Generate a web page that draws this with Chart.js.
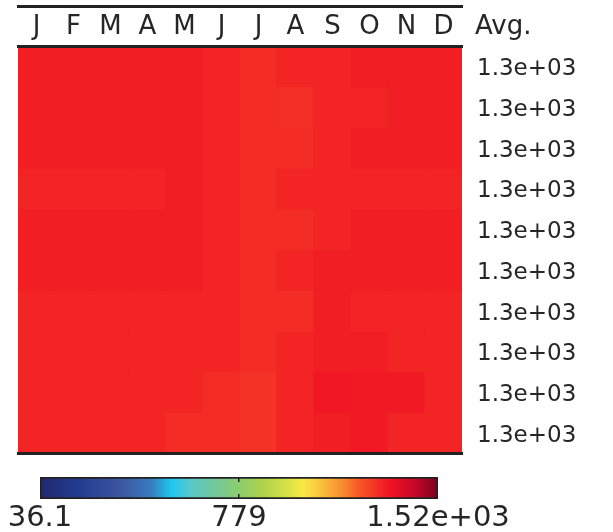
<!DOCTYPE html>
<html>
<head>
<meta charset="utf-8">
<script src="https://cdn.jsdelivr.net/npm/chart.js@4.4.1/dist/chart.umd.min.js"></script>
<style>
  body { margin: 0; background: #fff; }
  #wrap { position: relative; width: 613px; height: 532px; }
  #heat { position: absolute; left: 0; top: 0; }
  #bar { position: absolute; left: 0; top: 460px; }
</style>
</head>
<body>
<div id="wrap">
  <canvas id="heat" width="613" height="460"></canvas>
  <canvas id="bar" width="613" height="72"></canvas>
</div>
<script>
// month columns
var months = ['J', 'F', 'M', 'A', 'M', 'J', 'J', 'A', 'S', 'O', 'N', 'D'];

// one row per line of the heatmap
var row1  = [1324, 1324, 1324, 1324, 1324, 1314, 1301, 1314, 1314, 1324, 1324, 1324];
var row2  = [1324, 1324, 1324, 1324, 1324, 1314, 1301, 1296, 1314, 1314, 1324, 1324];
var row3  = [1324, 1324, 1324, 1324, 1324, 1314, 1301, 1301, 1314, 1324, 1324, 1324];
var row4  = [1314, 1314, 1314, 1314, 1324, 1314, 1301, 1314, 1314, 1314, 1314, 1314];
var row5  = [1324, 1324, 1324, 1324, 1324, 1314, 1301, 1301, 1314, 1324, 1324, 1324];
var row6  = [1324, 1324, 1324, 1324, 1324, 1314, 1301, 1314, 1324, 1324, 1324, 1324];
var row7  = [1314, 1314, 1314, 1314, 1314, 1314, 1301, 1301, 1324, 1314, 1314, 1314];
var row8  = [1314, 1314, 1314, 1314, 1314, 1314, 1301, 1314, 1324, 1324, 1314, 1314];
var row9  = [1314, 1314, 1314, 1314, 1314, 1301, 1289, 1314, 1337, 1330, 1330, 1314];
var row10 = [1314, 1314, 1314, 1314, 1301, 1301, 1289, 1314, 1324, 1330, 1314, 1314];
var rows = [row1, row2, row3, row4, row5, row6, row7, row8, row9, row10];

// colour scale range
var scaleMin = 36.1;
var scaleMax = 1522;

// colormap: position, rgb
var cmapPos = [0, 0.1, 0.2, 0.28, 0.33, 0.38, 0.43, 0.5, 0.56, 0.62, 0.66, 0.71, 0.76, 0.8, 0.88, 0.94, 1];
var cmapRgb = [
  [33, 40, 110], [35, 60, 145], [60, 85, 160], [55, 125, 190], [30, 200, 240],
  [90, 200, 200], [110, 200, 160], [140, 205, 110], [175, 210, 75], [215, 225, 70],
  [248, 233, 70], [250, 190, 60], [247, 140, 50], [247, 90, 38], [240, 18, 36],
  [200, 8, 40], [120, 0, 30]
];

var textColor = '#262626';
var font = 'DejaVu Sans';

function colorAt(f) {
  f = Math.max(0, Math.min(1, f));
  for (var i = 1; i < cmapPos.length; i++) {
    if (f <= cmapPos[i]) {
      var t = (f - cmapPos[i - 1]) / (cmapPos[i] - cmapPos[i - 1]);
      var a = cmapRgb[i - 1], b = cmapRgb[i];
      return 'rgb(' + Math.round(a[0] + (b[0] - a[0]) * t) + ',' +
        Math.round(a[1] + (b[1] - a[1]) * t) + ',' +
        Math.round(a[2] + (b[2] - a[2]) * t) + ')';
    }
  }
  return 'rgb(' + cmapRgb[cmapRgb.length - 1].join(',') + ')';
}

function valueColor(v) {
  return colorAt((v - scaleMin) / (scaleMax - scaleMin));
}

// like printf %.Ng
function fmtG(v, p) {
  var s = Number(v).toPrecision(p);
  if (s.indexOf('e') >= 0) {
    var parts = s.split('e');
    var sign = parts[1].charAt(0);
    var exp = parts[1].slice(1);
    if (exp.length < 2) exp = '0' + exp;
    return parts[0] + 'e' + sign + exp;
  }
  return s;
}

function rowAverage(r) {
  var sum = 0;
  for (var i = 0; i < r.length; i++) sum += r[i];
  return sum / r.length;
}

var avgLabel = {
  id: 'avgLabel',
  afterDraw: function(chart) {
    var xs = chart.scales.x;
    var ctx = chart.ctx;
    ctx.save();
    ctx.font = '26px "' + font + '"';
    ctx.fillStyle = textColor;
    ctx.textAlign = 'left';
    ctx.textBaseline = 'middle';
    ctx.fillText('Avg.', chart.chartArea.right + 13, xs.bottom - 3 - 26 * 1.2 / 2);
    ctx.restore();
  }
};

var datasets = [];
for (var r = 0; r < rows.length; r++) {
  var cells = [];
  var colors = [];
  for (var c = 0; c < months.length; c++) {
    cells.push([r, r + 1]);
    colors.push(valueColor(rows[r][c]));
  }
  datasets.push({
    label: 'row ' + (r + 1),
    data: cells,
    backgroundColor: colors,
    borderWidth: 0,
    inflateAmount: 0.6,
    grouped: false,
    barPercentage: 1,
    categoryPercentage: 1
  });
}

var heat = new Chart(document.getElementById('heat').getContext('2d'), {
  type: 'bar',
  data: { labels: months, datasets: datasets },
  options: {
    responsive: false,
    animation: false,
    layout: { padding: { left: 18, top: 0, right: 0, bottom: 0 } },
    plugins: { legend: { display: false }, tooltip: { enabled: false } },
    scales: {
      x: {
        type: 'category',
        position: 'top',
        weight: 0,
        grid: { display: false, drawTicks: false },
        border: { display: true, color: '#222', width: 3, z: 1 },
        ticks: { color: textColor, font: { family: font, size: 26 }, padding: 3, maxRotation: 0, autoSkip: false },
        afterFit: function(s) { s.height = 40; }
      },
      x2: {
        type: 'category',
        position: 'top',
        weight: 1,
        grid: { display: false, drawTicks: false },
        border: { display: true, color: '#222', width: 3, z: 1 },
        ticks: { display: false },
        afterFit: function(s) { s.height = 6; }
      },
      x3: {
        type: 'category',
        position: 'bottom',
        grid: { display: false, drawTicks: false },
        border: { display: true, color: '#222', width: 3, z: 1 },
        ticks: { display: false },
        afterFit: function(s) { s.height = 7; }
      },
      y: {
        type: 'linear',
        position: 'right',
        min: 0,
        max: rows.length,
        reverse: true,
        grid: { display: false, drawTicks: false },
        border: { display: false },
        afterBuildTicks: function(s) {
          s.ticks = rows.map(function(row, i) { return { value: i + 0.5 }; });
        },
        ticks: {
          autoSkip: false,
          padding: 15,
          labelOffset: 3,
          color: textColor,
          font: { family: font, size: 23 },
          callback: function(value, index) { return fmtG(rowAverage(rows[index]), 2); }
        },
        afterFit: function(s) {
          s.width = 151;
          s.paddingTop = 0;
          s.paddingBottom = 0;
        }
      }
    }
  },
  plugins: [avgLabel]
});

var bar = new Chart(document.getElementById('bar').getContext('2d'), {
  type: 'bar',
  data: {
    labels: [''],
    datasets: [{
      data: [[scaleMin, scaleMax]],
      backgroundColor: function(context) {
        var area = context.chart.chartArea;
        if (!area) return valueColor((scaleMin + scaleMax) / 2);
        var g = context.chart.ctx.createLinearGradient(area.left, 0, area.right, 0);
        for (var i = 0; i < cmapPos.length; i++) {
          g.addColorStop(cmapPos[i], 'rgb(' + cmapRgb[i].join(',') + ')');
        }
        return g;
      },
      borderColor: '#222',
      borderWidth: 2,
      borderSkipped: false,
      barPercentage: 1,
      categoryPercentage: 1
    }]
  },
  options: {
    indexAxis: 'y',
    responsive: false,
    animation: false,
    layout: { padding: { left: 40, right: 175, top: 17, bottom: 0 } },
    plugins: { legend: { display: false }, tooltip: { enabled: false } },
    scales: {
      y: { display: false },
      x: {
        type: 'linear',
        min: scaleMin,
        max: scaleMax,
        afterBuildTicks: function(s) {
          s.ticks = [{ value: scaleMin }, { value: (scaleMin + scaleMax) / 2 }, { value: scaleMax }];
        },
        grid: {
          drawTicks: false,
          z: 1,
          lineWidth: 1.5,
          color: function(ctx) { return ctx.index === 1 ? '#222' : 'rgba(0,0,0,0)'; }
        },
        border: { display: false, dash: [5, 12] },
        ticks: {
          autoSkip: false,
          maxRotation: 0,
          padding: 2,
          color: textColor,
          font: { family: font, size: 29 },
          callback: function(value) { return fmtG(value, 3); }
        },
        afterFit: function(s) { s.height = 33; }
      }
    }
  }
});
</script>
</body>
</html>
